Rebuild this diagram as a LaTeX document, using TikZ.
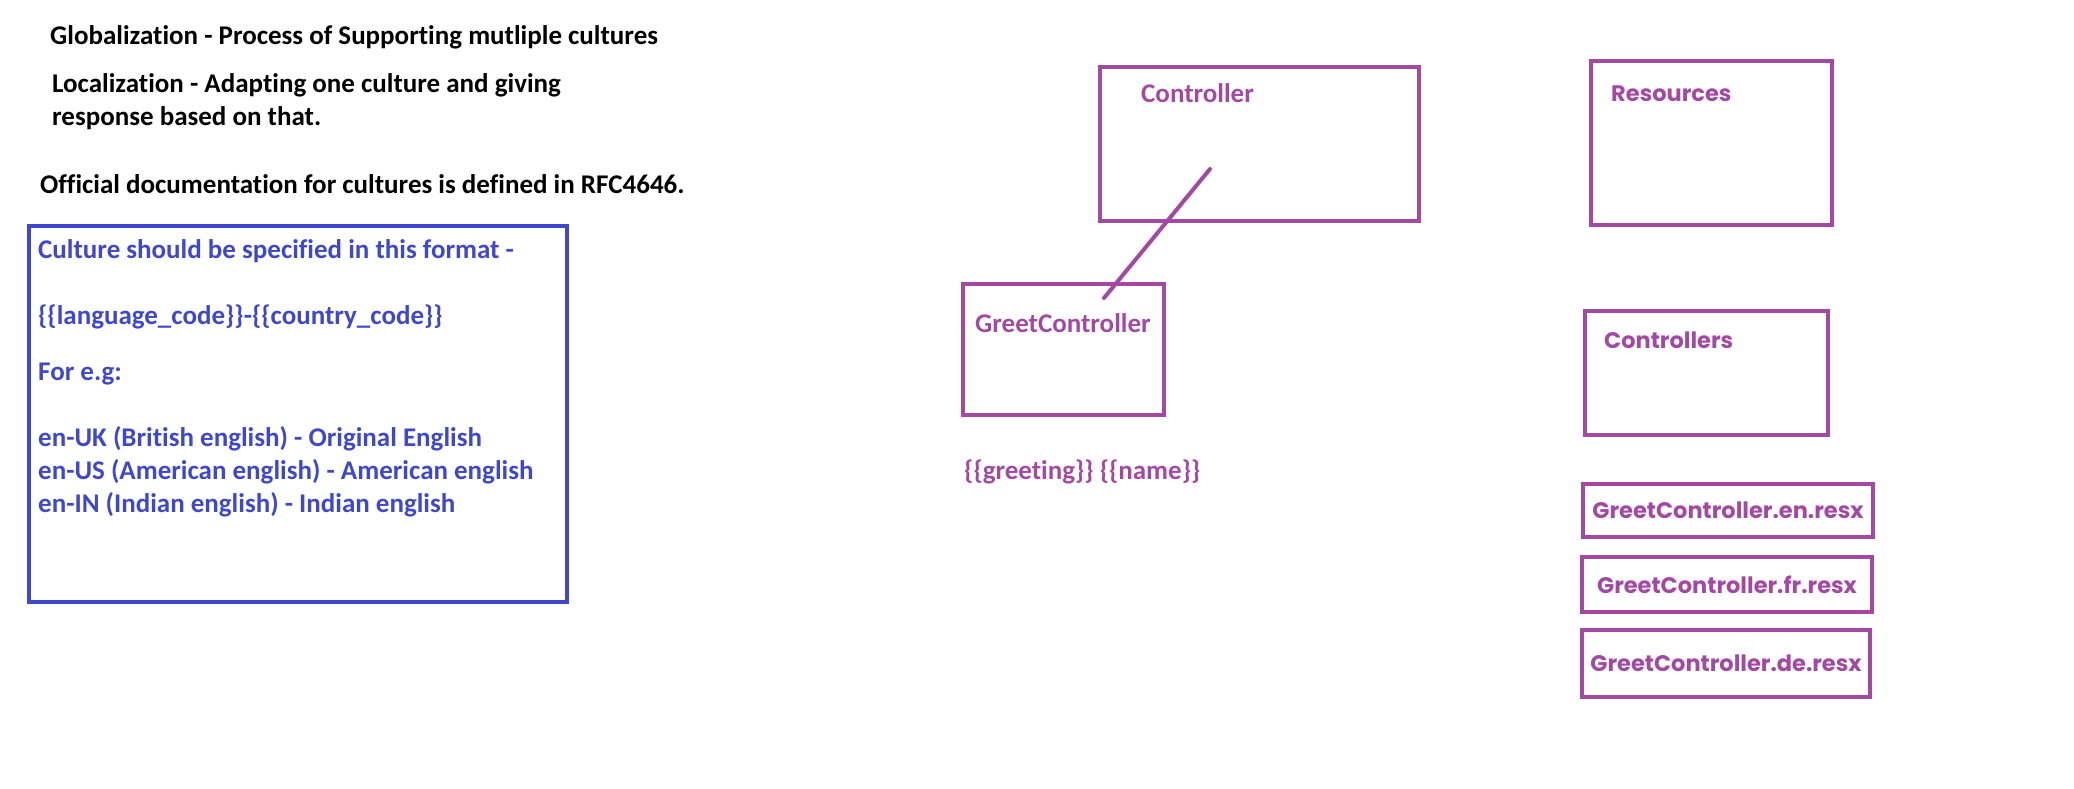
\documentclass[tikz,border=0pt]{standalone}
\usepackage{fontspec}
\setmainfont{Carlito}[Ligatures=NoCommon]
\newfontfamily\gothfont{Poppins}[Ligatures=NoCommon]
\usepackage{tikz}
\usetikzlibrary{calc}
\definecolor{paintblue}{RGB}{63, 72, 204}
\definecolor{paintpurple}{RGB}{163, 73, 164}
\tikzset{
  % Matnlar
  note/.style     = {font=\fontsize{27}{32}\selectfont\bfseries, text=black, anchor=west, inner sep=0pt},
  bluenote/.style = {note, text=paintblue},
  purpnote/.style = {note, text=paintpurple},
  gothnote/.style = {font=\gothfont\fontsize{22.5}{28}\selectfont\bfseries, text=paintpurple},
  % Ramkalar
  bluebox/.style  = {draw=paintblue, line width=4pt, rectangle, inner sep=0pt},
  purpbox/.style  = {draw=paintpurple, line width=4pt, rectangle, inner sep=0pt},
  % Chiziq
  link/.style     = {draw=paintpurple, line width=4pt, line cap=round},
}
\begin{document}
\begin{tikzpicture}[x=1pt,y=-1pt]
  \useasboundingbox (0,0) rectangle (2074,788);
  % Ta'riflar
  \node[note] (glob) at (50,37) {Globalization - Process of Supporting mutliple cultures};
  \node[note] (loc1) at (52,85) {Localization - Adapting one culture and giving};
  \node[note] (loc2) at (52,118) {response based on that.};
  \node[note] (rfc) at (40,184) {Official documentation for cultures is defined in RFC4646.};
  % Madaniyat formati
  \node[bluebox, minimum width=538, minimum height=376] (fmt) at (298,414) {};
  \node[bluenote] (fmt1) at (38,251) {Culture should be specified in this format -};
  \node[bluenote] (fmt2) at (38,317) {\{\{language\_code\}\}-\{\{country\_code\}\}};
  \node[bluenote] (fmt3) at (38,374) {For e.g:};
  \node[bluenote] (enuk) at (38,439) {en-UK (British english) - Original English};
  \node[bluenote] (enus) at (38,472) {en-US (American english) - American english};
  \node[bluenote] (enin) at (38,505) {en-IN (Indian english) - Indian english};
  % Controller
  \node[purpbox, minimum width=319, minimum height=154] (ctrl) at (1259.5,144) {};
  \node[purpnote] (ctrllab) at (1141,93) {Controller};
  \node[purpbox, minimum width=201, minimum height=131] (greet) at (1063.5,349.5) {};
  \node[purpnote] (greetlab) at (975,323) {GreetController};
  \coordinate (linkA) at (1210,169);
  \coordinate (linkB) at (1104,298);
  \draw[link] (linkA) -- (linkB);
  \node[purpnote] (msg) at (964,472) {\{\{greeting\}\} \{\{name\}\}};
  % Resurslar
  \node[purpbox, minimum width=241, minimum height=164] (res) at (1711.5,143) {};
  \node[gothnote, anchor=west, inner sep=0pt] (reslab) at (1611,94) {Resources};
  \node[purpbox, minimum width=243, minimum height=124] (ctrls) at (1706.5,373) {};
  \node[gothnote, anchor=west, inner sep=0pt] (ctrlslab) at (1604,340) {Controllers};
  \node[purpbox, gothnote, minimum width=290, minimum height=53] (resen) at (1728,510.5) {GreetController.en.resx};
  \node[purpbox, gothnote, minimum width=290, minimum height=55] (resfr) at (1727,584.5) {GreetController.fr.resx};
  \node[purpbox, gothnote, minimum width=288, minimum height=67] (resde) at (1726,663.5) {GreetController.de.resx};
\end{tikzpicture}
\end{document}
